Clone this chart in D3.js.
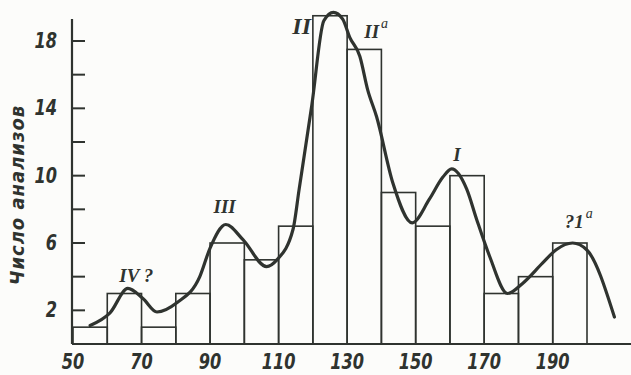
<!DOCTYPE html>
<html>
<head>
<meta charset="utf-8">
<script src="https://cdn.jsdelivr.net/npm/d3@7"></script>
<style>
  body { margin: 0; background: #fcfcfa; }
  svg { display: block; }
  .num { font-family: "DejaVu Sans Condensed", "Liberation Sans", sans-serif; font-style: italic; font-size: 20px; fill: #2f332f; }
  .rom { font-family: "Liberation Serif", "DejaVu Serif", serif; font-style: italic; font-weight: bold; fill: #2f332f; }
</style>
</head>
<body>
<div id="chart"></div>
<script>
// histogram: bin starts (width 10) and counts
const binStarts = [50, 60, 70, 80, 90, 100, 110, 120, 130, 140, 150, 160, 170, 180, 190]
const counts = [1, 3, 1, 3, 6, 5, 7, 19.5, 17.5, 9, 7, 10, 3, 4, 6]

// smoothed curve
const curveX = [55, 60.8, 66, 70.4, 74.5, 80.3, 87, 90, 94.6, 99.6, 106.5, 109.5, 114.2, 116, 119.7, 123.2, 126, 128.7, 130.8, 133.7, 136, 138.6, 143.3, 149, 154, 157.9, 160.5, 164.9, 167.8, 171.6, 176.8, 181.2, 187, 191, 195.8, 199.9, 208]
const curveY = [1.1, 1.85, 3.3, 2.7, 1.9, 2.45, 4.0, 5.7, 7.1, 6.2, 4.6, 5.0, 6.8, 9.2, 14.2, 19.2, 19.7, 19.3, 18.2, 17.1, 15.1, 13.5, 9.6, 7.2, 8.6, 9.9, 10.4, 9.2, 7.4, 5.2, 3.0, 3.6, 4.8, 5.6, 6.0, 5.6, 1.6]

const xTicks = [50, 70, 90, 110, 130, 150, 170, 190]
const yTicks = [2, 4, 6, 8, 10, 12, 14, 16, 18]
const yLabels = [2, 6, 10, 14, 18]

// peak labels
const peakText = ['IV ?', 'III', 'II', 'II', 'I', '?1']
const peakSup = ['', '', '', 'a', '', 'a']
const peakX = [63.5, 91, 114, 135, 161, 193.5]
const peakY = [3.7, 7.8, 18.4, 18.2, 10.9, 6.9]

const width = 631, height = 375
const ink = '#2f332f'

const svg = d3.select('#chart').append('svg')
  .attr('width', width)
  .attr('height', height)

const x = d3.scaleLinear().domain([50, 200]).range([73, 587])
const y = d3.scaleLinear().domain([0, 18]).range([344, 41])

// bars
svg.append('g')
  .selectAll('rect')
  .data(binStarts)
  .enter()
  .append('rect')
  .attr('x', d => x(d))
  .attr('width', d => x(d + 10) - x(d))
  .attr('y', (d, i) => y(counts[i]))
  .attr('height', (d, i) => y(0) - y(counts[i]))
  .attr('fill', 'none')
  .attr('stroke', ink)
  .attr('stroke-width', 1.6)

// axes
svg.append('line')
  .attr('x1', x(50) - 1).attr('x2', width)
  .attr('y1', y(0)).attr('y2', y(0))
  .attr('stroke', ink).attr('stroke-width', 2.2)

svg.append('line')
  .attr('x1', x(50) - 1).attr('x2', x(50) - 1)
  .attr('y1', y(0)).attr('y2', y(19.3))
  .attr('stroke', ink).attr('stroke-width', 2.2)

svg.append('g')
  .selectAll('line')
  .data(yTicks)
  .enter()
  .append('line')
  .attr('x1', x(50) - 1).attr('x2', x(50) + 12)
  .attr('y1', d => y(d)).attr('y2', d => y(d))
  .attr('stroke', ink).attr('stroke-width', 2)

svg.append('g')
  .selectAll('text')
  .data(yLabels)
  .enter()
  .append('text')
  .attr('class', 'num')
  .attr('transform', d => `translate(57,${y(d) + 7}) scale(0.9,1.1)`)
  .attr('text-anchor', 'end')
  .style('font-weight', 'bold')
  .text(d => d)

svg.append('g')
  .selectAll('text')
  .data(xTicks)
  .enter()
  .append('text')
  .attr('class', 'num')
  .attr('transform', d => `translate(${x(d)},369) scale(0.9,1.1)`)
  .attr('text-anchor', 'middle')
  .style('font-weight', 'bold')
  .text(d => d)

svg.append('text')
  .attr('class', 'num')
  .attr('transform', 'translate(24,195) rotate(-90)')
  .attr('text-anchor', 'middle')
  .style('font-size', '20px')
  .style('font-weight', 'bold')
  .style('letter-spacing', '1px')
  .text('Число анализов')

// curve
const line = d3.line()
  .x(d => x(d[0]))
  .y(d => y(d[1]))
  .curve(d3.curveMonotoneX)

svg.append('path')
  .datum(curveX.map((d, i) => [d, curveY[i]]))
  .attr('d', line)
  .attr('fill', 'none')
  .attr('stroke', ink)
  .attr('stroke-width', 3.2)
  .attr('stroke-linejoin', 'round')
  .attr('stroke-linecap', 'round')

// peak labels
const labels = svg.append('g')
  .selectAll('text')
  .data(peakText)
  .enter()
  .append('text')
  .attr('class', 'rom')
  .attr('x', (d, i) => x(peakX[i]))
  .attr('y', (d, i) => y(peakY[i]))
  .style('font-size', (d, i) => i == 2 ? '24px' : '19px')
  .text(d => d)

labels.append('tspan')
  .attr('dy', -10)
  .attr('dx', 2)
  .style('font-size', '14px')
  .style('font-weight', 'normal')
  .text((d, i) => peakSup[i])
</script>
</body>
</html>
